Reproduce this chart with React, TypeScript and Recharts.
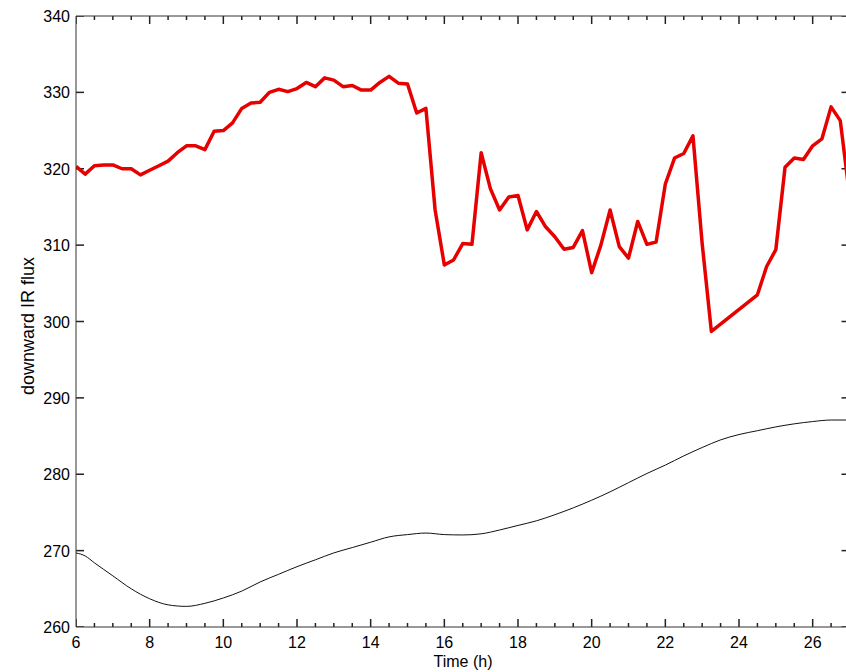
import React from "react";
import { LineChart, Line, XAxis, YAxis } from "recharts";

// ---- data ----
const redTimes = [
  6.0, 6.25, 6.5, 6.75, 7.0, 7.25, 7.5, 7.75, 8.0, 8.25, 8.5, 8.75, 9.0, 9.25, 9.5, 9.75,
  10.0, 10.25, 10.5, 10.75, 11.0, 11.25, 11.5, 11.75, 12.0, 12.25, 12.5, 12.75, 13.0, 13.25,
  13.5, 13.75, 14.0, 14.25, 14.5, 14.75, 15.0, 15.25, 15.5, 15.75, 16.0, 16.25, 16.5, 16.75,
  17.0, 17.25, 17.5, 17.75, 18.0, 18.25, 18.5, 18.75, 19.0, 19.25, 19.5, 19.75, 20.0, 20.25,
  20.5, 20.75, 21.0, 21.25, 21.5, 21.75, 22.0, 22.25, 22.5, 22.75, 23.0, 23.25, 24.5, 24.75,
  25.0, 25.25, 25.5, 25.75, 26.0, 26.25, 26.5, 26.75, 27.0,
];
const redValues = [
  320.3, 319.3, 320.4, 320.5, 320.5, 320.0, 320.0, 319.2, 319.8, 320.4, 321.0, 322.1, 323.0, 323.0, 322.5, 324.9,
  325.0, 326.0, 327.9, 328.6, 328.7, 330.0, 330.4, 330.1, 330.5, 331.3, 330.75, 331.9, 331.6, 330.75,
  330.9, 330.3, 330.3, 331.3, 332.1, 331.2, 331.1, 327.3, 327.9, 314.6, 307.4, 308.05, 310.2, 310.1,
  322.1, 317.4, 314.6, 316.3, 316.5, 312.0, 314.4, 312.4, 311.1, 309.45, 309.7, 311.9, 306.4, 310.0,
  314.6, 309.8, 308.3, 313.1, 310.1, 310.4, 318.0, 321.4, 322.0, 324.3, 310.2, 298.7, 303.5, 307.2,
  309.4, 320.2, 321.4, 321.2, 323.0, 323.9, 328.1, 326.3, 316.5,
];

const blackTimes = [
  6.0, 6.25, 6.5, 7.0, 7.5, 8.0, 8.5, 9.0, 9.5, 10.0, 10.5, 11.0, 11.5, 12.0, 12.5, 13.0,
  13.5, 14.0, 14.5, 15.0, 15.5, 16.0, 16.5, 17.0, 17.5, 18.0, 18.5, 19.0, 19.5, 20.0, 20.5,
  21.0, 21.5, 22.0, 22.5, 23.0, 23.5, 24.0, 24.5, 25.0, 25.5, 26.0, 26.5, 27.0,
];
const blackValues = [
  269.7, 269.3, 268.4, 266.7, 265.0, 263.7, 262.9, 262.7, 263.1, 263.8, 264.7, 265.9, 266.9, 267.9, 268.8, 269.7,
  270.4, 271.1, 271.8, 272.1, 272.3, 272.1, 272.05, 272.2, 272.7, 273.3, 273.9, 274.7, 275.6, 276.6, 277.7,
  278.9, 280.1, 281.2, 282.4, 283.5, 284.5, 285.2, 285.7, 286.2, 286.6, 286.9, 287.1, 287.1,
];

const xTicks = [
  6, 6.5, 7, 7.5, 8, 8.5, 9, 9.5, 10, 10.5, 11, 11.5, 12, 12.5, 13, 13.5, 14, 14.5, 15, 15.5,
  16, 16.5, 17, 17.5, 18, 18.5, 19, 19.5, 20, 20.5, 21, 21.5, 22, 22.5, 23, 23.5, 24, 24.5,
  25, 25.5, 26, 26.5, 27,
];
const xLabelTicks = [6, 8, 10, 12, 14, 16, 18, 20, 22, 24, 26];
const yTicks = [260, 270, 280, 290, 300, 310, 320, 330, 340];

const redData = redTimes.map((t, i) => ({ t, v: redValues[i] }));
const blackData = blackTimes.map((t, i) => ({ t, v: blackValues[i] }));

// ---- layout ----
const CHART_W = 870;
const CHART_H = 672;
const PL = 76;
const PT = 16;
const PB = 627;
const PR = 849.5;
const X_MIN = 6;
const X_MAX = 27;
const Y_MIN = 260;
const Y_MAX = 340;
const AX = "#222222";
const FONT = "'Liberation Sans', Arial, sans-serif";

const MAJOR_PX = 8;
const MINOR_PX = 4;
const Y_PER_PX = (Y_MAX - Y_MIN) / (PB - PT);
const X_PER_PX = (X_MAX - X_MIN) / (PR - PL);

const BottomLabel = (props: any) => {
  const { x, payload } = props;
  const v = payload.value;
  if (!xLabelTicks.includes(v)) return <g />;
  return (
    <text x={x} y={PB + 21} textAnchor="middle" fontSize={16} fontFamily={FONT} fill="#000" stroke="none">
      {v}
    </text>
  );
};

const LeftLabel = (props: any) => {
  const { y, payload } = props;
  return (
    <text x={PL - 6} y={y + 6} textAnchor="end" fontSize={16} fontFamily={FONT} fill="#000" stroke="none">
      {payload.value}
    </text>
  );
};

export default function App() {
  const tickSegments: { key: string; data: { t: number; v: number }[] }[] = [];
  xTicks.forEach((t) => {
    const len = (xLabelTicks.includes(t) ? MAJOR_PX : MINOR_PX) * Y_PER_PX;
    tickSegments.push({ key: `b${t}`, data: [{ t, v: Y_MIN }, { t, v: Y_MIN + len }] });
    tickSegments.push({ key: `t${t}`, data: [{ t, v: Y_MAX }, { t, v: Y_MAX - len }] });
  });
  yTicks.forEach((v) => {
    const len = MAJOR_PX * X_PER_PX;
    tickSegments.push({ key: `l${v}`, data: [{ t: X_MIN, v }, { t: X_MIN + len, v }] });
    tickSegments.push({ key: `r${v}`, data: [{ t: X_MAX - len, v }, { t: X_MAX, v }] });
  });

  return (
    <div
      style={{
        position: "absolute",
        left: 0,
        top: 0,
        width: 846,
        height: 672,
        overflow: "hidden",
        background: "#fff",
      }}
    >
      <LineChart
        width={CHART_W}
        height={CHART_H}
        margin={{ top: 0, right: 0, bottom: 0, left: 0 }}
      >
        <XAxis
          xAxisId="bottom"
          dataKey="t"
          type="number"
          domain={[X_MIN, X_MAX]}
          ticks={xTicks}
          interval={0}
          allowDataOverflow
          height={CHART_H - PB}
          tickSize={0}
          tickMargin={0}
          tick={<BottomLabel />}
          axisLine={{ stroke: "#333" }}
          tickLine={false}
        />
        <XAxis
          xAxisId="top"
          orientation="top"
          dataKey="t"
          type="number"
          domain={[X_MIN, X_MAX]}
          ticks={xTicks}
          interval={0}
          allowDataOverflow
          height={PT}
          tick={false}
          axisLine={{ stroke: "#333" }}
          tickLine={false}
        />
        <YAxis
          yAxisId="left"
          type="number"
          domain={[Y_MIN, Y_MAX]}
          ticks={yTicks}
          interval={0}
          allowDataOverflow
          width={PL}
          tickSize={0}
          tickMargin={0}
          tick={<LeftLabel />}
          axisLine={{ stroke: "#333" }}
          tickLine={false}
        />
        <YAxis
          yAxisId="right"
          orientation="right"
          type="number"
          domain={[Y_MIN, Y_MAX]}
          ticks={yTicks}
          interval={0}
          allowDataOverflow
          width={CHART_W - PR}
          tick={false}
          axisLine={{ stroke: "#333" }}
          tickLine={false}
        />
        {tickSegments.map((s) => (
          <Line
            key={s.key}
            xAxisId="bottom"
            yAxisId="left"
            data={s.data}
            dataKey="v"
            type="linear"
            stroke={AX}
            strokeWidth={1.5}
            dot={false}
            activeDot={false}
            legendType="none"
            isAnimationActive={false}
          />
        ))}
        <Line
          xAxisId="bottom"
          yAxisId="left"
          data={blackData}
          dataKey="v"
          type="monotone"
          stroke="#111"
          strokeWidth={1}
          dot={false}
          isAnimationActive={false}
        />
        <Line
          xAxisId="bottom"
          yAxisId="left"
          data={redData}
          dataKey="v"
          type="linear"
          stroke="#e60000"
          strokeWidth={3.5}
          strokeLinejoin="round"
          dot={false}
          isAnimationActive={false}
        />
      </LineChart>
      <div
        style={{
          position: "absolute",
          left: 0,
          top: 0,
          width: 846,
          height: 672,
          pointerEvents: "none",
        }}
      >
        <svg width={846} height={672}>
          <text x={463} y={667} textAnchor="middle" fontSize={16} fontFamily={FONT} fill="#000">
            Time (h)
          </text>
          <text
            x={0}
            y={0}
            transform="translate(34 326) rotate(-90)"
            textAnchor="middle"
            fontSize={18}
            fontFamily={FONT}
            fill="#000"
          >
            downward IR flux
          </text>
        </svg>
      </div>
    </div>
  );
}
